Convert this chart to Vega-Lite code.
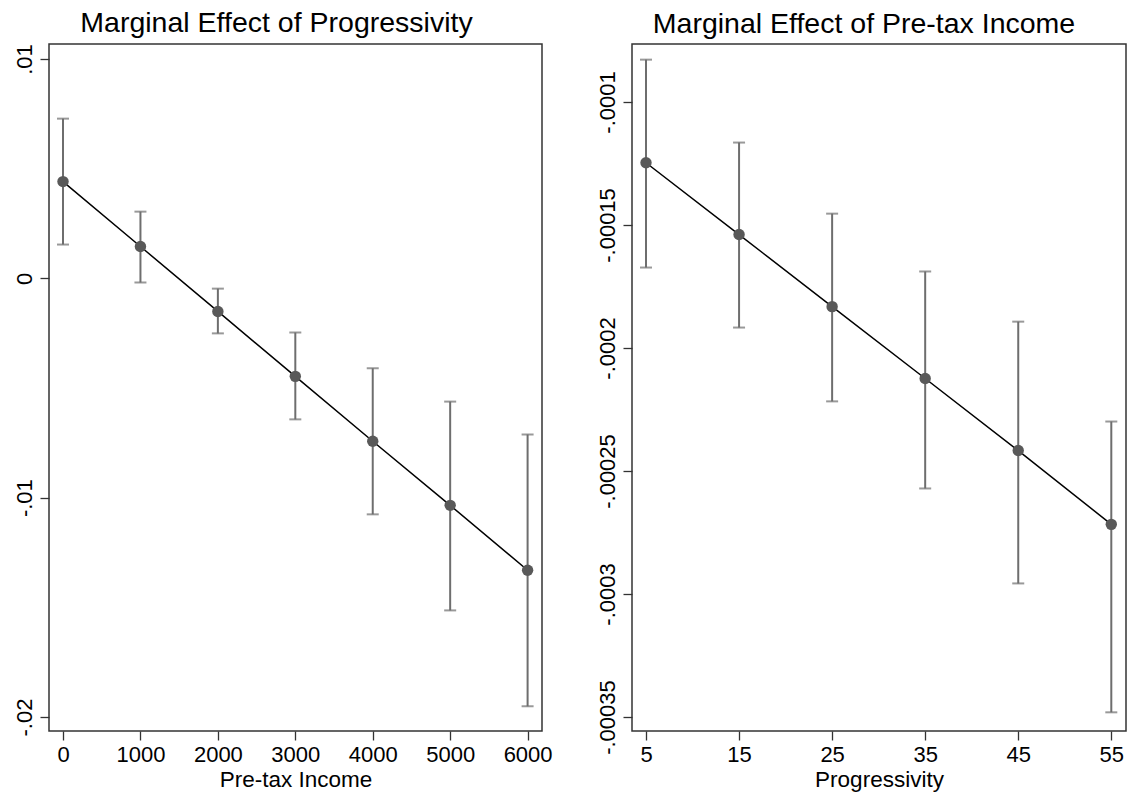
{
  "$schema": "https://vega.github.io/schema/vega-lite/v6.json",
  "background": "white",
  "padding": {"left": 12, "top": 8, "right": 2, "bottom": 2},
  "spacing": 42,
  "config": {
    "font": "Liberation Sans",
    "view": {"stroke": "#333333", "strokeWidth": 1.5},
    "axis": {
      "domain": false, "grid": false, "tickColor": "#333333", "tickSize": 9, "tickWidth": 1.3,
      "labelFontSize": 22, "labelColor": "black", "titleFontSize": 22.5, "titleFontWeight": "normal",
      "titleColor": "black", "labelPadding": 4, "titlePadding": 3
    },
    "title": {"fontSize": 28.5, "fontWeight": "normal", "color": "black", "offset": 6}
  },
  "hconcat": [
    {
      "width": 493, "height": 687,
      "title": {"text": "Marginal Effect of Progressivity", "dx": -19},
      "data": {"values": [
        {"x": 0, "est": 0.00441, "lo": 0.00154, "hi": 0.00728},
        {"x": 1000, "est": 0.00145, "lo": -0.00019, "hi": 0.00304},
        {"x": 2000, "est": -0.00151, "lo": -0.00251, "hi": -0.00047},
        {"x": 3000, "est": -0.00447, "lo": -0.00643, "hi": -0.00247},
        {"x": 4000, "est": -0.00743, "lo": -0.01076, "hi": -0.00410},
        {"x": 5000, "est": -0.01035, "lo": -0.01514, "hi": -0.00562},
        {"x": 6000, "est": -0.01331, "lo": -0.01951, "hi": -0.00712}
      ]},
      "encoding": {
        "x": {"field": "x", "type": "quantitative", "title": "Pre-tax Income",
              "scale": {"domain": [-181, 6186], "nice": false, "zero": false},
              "axis": {"values": [0, 1000, 2000, 3000, 4000, 5000, 6000], "format": "d"}}
      },
      "layer": [
        {
          "mark": {"type": "errorbar", "color": "#6e6e6e", "thickness": 2, "ticks": {"size": 12, "thickness": 2, "color": "#6e6e6e"}},
          "encoding": {
            "y": {"field": "lo", "type": "quantitative", "title": null,
                  "scale": {"domain": [-0.020638, 0.010683], "nice": false, "zero": false},
                  "axis": {"values": [0.01, 0, -0.01, -0.02], "labelExpr": "replace(toString(datum.value), '0.', '.')",
                           "labelAngle": -90, "labelAlign": "center", "labelBaseline": "bottom"}},
            "y2": {"field": "hi"}
          }
        },
        {
          "mark": {"type": "line", "color": "black", "strokeWidth": 1.5},
          "encoding": {"y": {"field": "est", "type": "quantitative", "title": null}}
        },
        {
          "mark": {"type": "circle", "size": 130, "color": "#595959", "opacity": 1},
          "encoding": {"y": {"field": "est", "type": "quantitative", "title": null}}
        }
      ]
    },
    {
      "width": 494, "height": 687,
      "title": {"text": "Marginal Effect of Pre-tax Income", "dx": -15},
      "data": {"values": [
        {"x": 5, "est": -0.0001247, "lo": -0.0001673, "hi": -0.0000828},
        {"x": 15, "est": -0.0001539, "lo": -0.0001917, "hi": -0.0001165},
        {"x": 25, "est": -0.0001832, "lo": -0.0002217, "hi": -0.0001454},
        {"x": 35, "est": -0.0002124, "lo": -0.0002571, "hi": -0.0001689},
        {"x": 45, "est": -0.0002417, "lo": -0.0002957, "hi": -0.0001893},
        {"x": 55, "est": -0.0002717, "lo": -0.0003481, "hi": -0.0002299}
      ]},
      "encoding": {
        "x": {"field": "x", "type": "quantitative", "title": "Progressivity",
              "scale": {"domain": [3.495, 56.58], "nice": false, "zero": false},
              "axis": {"values": [5, 15, 25, 35, 45, 55]}}
      },
      "layer": [
        {
          "mark": {"type": "errorbar", "color": "#6e6e6e", "thickness": 2, "ticks": {"size": 12, "thickness": 2, "color": "#6e6e6e"}},
          "encoding": {
            "y": {"field": "lo", "type": "quantitative", "title": null,
                  "scale": {"domain": [-0.00035569, -0.00007644], "nice": false, "zero": false},
                  "axis": {"values": [-0.0001, -0.00015, -0.0002, -0.00025, -0.0003, -0.00035], "labelExpr": "replace(toString(datum.value), '0.', '.')",
                           "labelAngle": -90, "labelAlign": "center", "labelBaseline": "bottom"}},
            "y2": {"field": "hi"}
          }
        },
        {
          "mark": {"type": "line", "color": "black", "strokeWidth": 1.5},
          "encoding": {"y": {"field": "est", "type": "quantitative", "title": null}}
        },
        {
          "mark": {"type": "circle", "size": 130, "color": "#595959", "opacity": 1},
          "encoding": {"y": {"field": "est", "type": "quantitative", "title": null}}
        }
      ]
    }
  ]
}
